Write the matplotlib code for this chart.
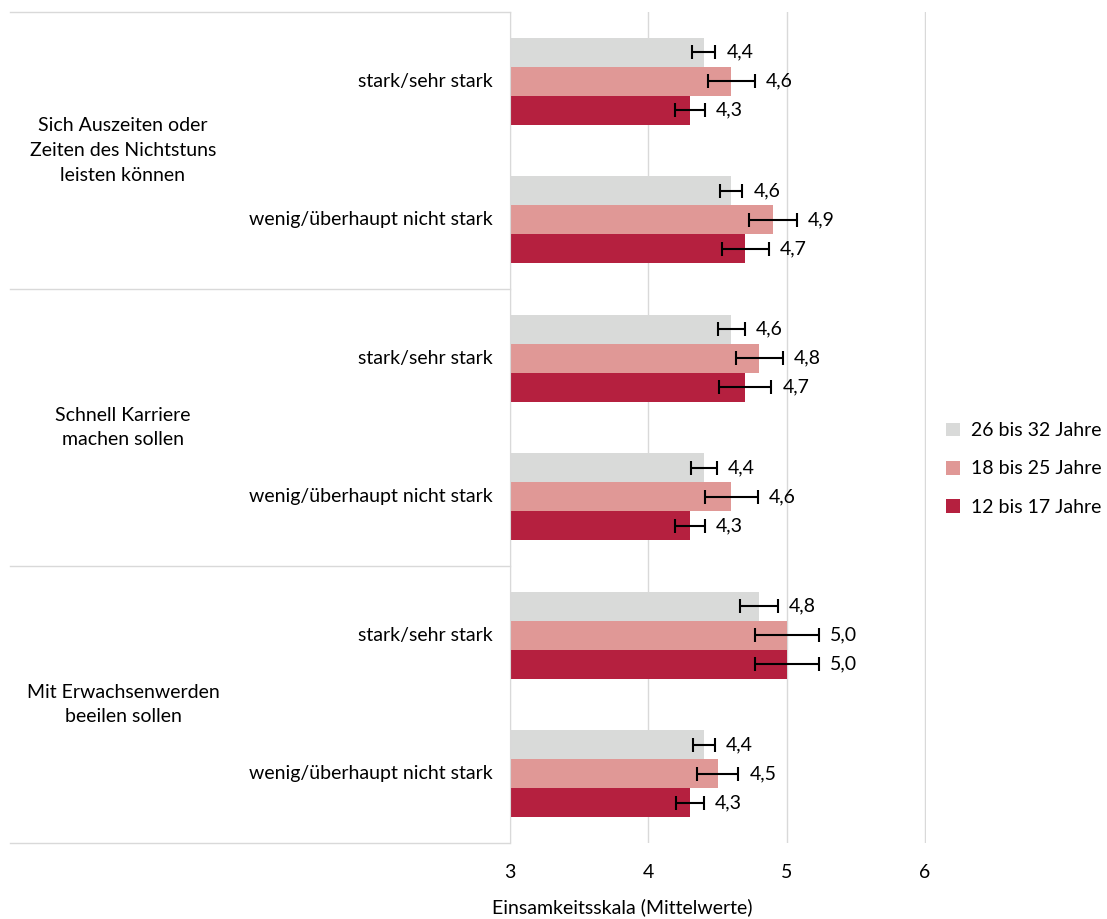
import numpy as np
import matplotlib.pyplot as plt

plt.rcParams['font.family'] = ['Lato', 'DejaVu Sans']

groups = ['Sich Auszeiten oder\nZeiten des Nichtstuns\nleisten können',
          'Schnell Karriere\nmachen sollen',
          'Mit Erwachsenwerden\nbeeilen sollen']
levels = ['stark/sehr stark', 'wenig/überhaupt nicht stark']

series = ['26 bis 32 Jahre', '18 bis 25 Jahre', '12 bis 17 Jahre']
colors = ['#D9DAD9', '#E09896', '#B5203F']

# Mittelwerte, Reihenfolge: je Gruppe stark, wenig
werte_26_32 = [4.4, 4.6, 4.6, 4.4, 4.8, 4.4]
werte_18_25 = [4.6, 4.9, 4.8, 4.6, 5.0, 4.5]
werte_12_17 = [4.3, 4.7, 4.7, 4.3, 5.0, 4.3]

fehler_26_32 = [0.085, 0.08, 0.10, 0.095, 0.135, 0.08]
fehler_18_25 = [0.17, 0.175, 0.17, 0.19, 0.23, 0.15]
fehler_12_17 = [0.11, 0.17, 0.19, 0.11, 0.23, 0.10]

werte = [werte_26_32, werte_18_25, werte_12_17]
fehler = [fehler_26_32, fehler_18_25, fehler_12_17]

W, H = 1107, 919
fs = 14
fig = plt.figure(figsize=(W / 100, H / 100), dpi=100)
ax = fig.add_axes([510 / W, 1 - 843 / H, (926 - 510) / W, (843 - 12) / H])

grid_c = '#D9D9D9'
n = len(groups) * len(levels)
pos = np.arange(n)
bh = 0.21

for i in range(3):
    y = pos + (i - 1) * bh
    ax.barh(y, np.array(werte[i]) - 3, left=3, height=bh, color=colors[i],
            label=series[i], zorder=2)
    ax.errorbar(werte[i], y, xerr=fehler[i], fmt='none', ecolor='black',
                elinewidth=1.5, capsize=5, capthick=1.5, zorder=3)
    for v, e, yy in zip(werte[i], fehler[i], y):
        ax.text(v + e + 0.08, yy, f'{v:.1f}'.replace('.', ','), va='center',
                ha='left', fontsize=fs)

ax.set_xlim(3, 6.007)
ax.set_ylim(n - 0.5, -0.5)
ax.set_xticks([3, 4, 5, 6])
ax.set_yticks([])
ax.tick_params(axis='x', length=0, pad=15, labelsize=fs)
ax.grid(axis='x', color=grid_c, lw=1, zorder=0)
for s in ['top', 'right', 'bottom']:
    ax.spines[s].set_visible(False)
ax.spines['left'].set_color(grid_c)
ax.set_xlabel('Einsamkeitsskala (Mittelwerte)', fontsize=fs, va='center')
ax.xaxis.set_label_coords((622 - 510) / 416, -(907 - 843) / 831)

# Trennlinien und Beschriftungen links
x0 = (10 - 510) / 416
for k in range(len(groups) + 1):
    ax.plot([x0, 0], [2 * k - 0.5] * 2, color=grid_c, lw=1, clip_on=False,
            transform=ax.get_yaxis_transform())
for g, name in enumerate(groups):
    ax.text((123 - 510) / 416, 2 * g + 0.5, name, ha='center', va='center',
            fontsize=fs, linespacing=1.55, transform=ax.get_yaxis_transform())
    for j, lev in enumerate(levels):
        ax.text(-0.041, 2 * g + j, lev, ha='right', va='center', fontsize=fs,
                transform=ax.get_yaxis_transform())

handles, labels = ax.get_legend_handles_labels()
fig.legend(handles, labels, loc='center left', frameon=False, fontsize=fs,
           bbox_to_anchor=(946 / W, 1 - 469 / H), borderpad=0,
           borderaxespad=0, handlelength=0.7, handleheight=0.7,
           handletextpad=0.6, labelspacing=1.1)

fig.savefig('out.png', dpi=100)
